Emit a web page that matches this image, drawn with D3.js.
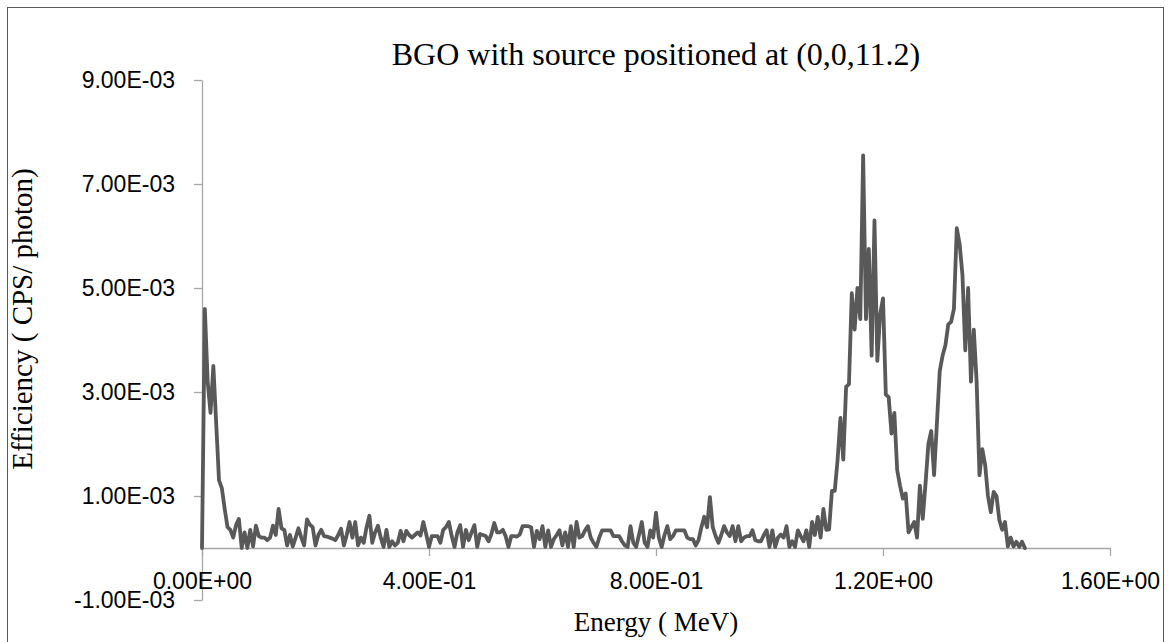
<!DOCTYPE html>
<html>
<head>
<meta charset="utf-8">
<script src="https://cdn.jsdelivr.net/npm/d3@7"></script>
<style>
  body { margin: 0; background: #fff; }
  .tick text { font-family: 'Liberation Sans', Arial, sans-serif; font-size: 23px; fill: #000; }
  .tick line, .domain { stroke: #a6a6a6; }
  .title { font-family: 'Liberation Serif', 'Times New Roman', serif; fill: #000; }
</style>
</head>
<body>
<div class="chart"></div>
<script>
// spectrum bins (MeV) and efficiency, in units of 1e-4 CPS/photon
const energyStart = 0
const energyStep = 0.005
const efficiency = [
  0, 46, 32, 26, 35, 24, 13, 11.5, 7.5, 4, 3.5, 2, 4.4, 5.6, 0, 3, 0, 3.5, 0.3, 4.3,
  2.3, 2, 2, 1.5, 2, 4.3, 2.5, 7.5, 3.8, 3.5, 0.5, 2.5, 0.3, 2, 3.8, 2, 0.5, 5.5,
  4.5, 4, 0.5, 2.5, 3.5, 2.3, 2.2, 2, 1.8, 1.5, 2.5, 3.7, 0.5, 2.5, 5, 2, 5, 0.5,
  2, 1, 4, 6.2, 1, 3, 4.3, 2, 0.2, 3.5, 0.2, 1.3, 0.5, 1, 3.3, 1.3, 3.3, 2.5, 2,
  2.5, 3, 2.4, 5, 2.7, 0.2, 2.3, 2.3, 2.3, 1, 3.5, 4, 5, 2.3, 0.2, 3, 4.4, 0.2,
  3.5, 1.5, 3, 4.4, 0.2, 2.7, 2.5, 2.3, 1.3, 2.7, 4.8, 3, 3,
  3.5, 2.3, 0.2, 2.3, 2.3, 2.2, 2.6, 4.2, 4.2, 4.2, 4, 0.2, 3.3, 1.7, 4.2, 0.2,
  3.4, 0.2, 1.7, 2.5, 3.4, 0.5, 3, 0.2, 4.2, 0.2, 5, 2, 2.3, 3.4, 4.2, 2, 1, 0.2,
  2, 3.4, 3.4, 3.4, 3.4, 2.3, 2.3, 2.3, 1.3, 0.5, 0.2, 4.2, 1, 0.2, 2.5, 5, 1, 0.2,
  3.4, 2, 6.8, 2, 0.2, 2.5, 4.2, 1.7, 2.3, 3.4, 3.4, 3.4, 3.4, 2, 1.7, 1.7, 0.5, 1.5,
  4, 6, 4, 9.8, 4, 2.3, 1, 2.5, 4.2, 3, 2.3, 4.2, 1.3, 4.2, 1.3, 2, 2.3, 2.3, 3.4,
  1.5, 1.3, 1.3, 2.5, 3.4, 0.2, 3.4, 0.2, 2, 2.6, 2, 4.2, 0.2, 1.3, 0.2, 3.4, 2.3,
  1.3, 3.4, 0.2, 5, 2.5, 6, 2, 7.5, 3.5, 3.6, 11, 11, 17, 25, 17, 31, 31.5, 49, 42,
  50, 44,
  75.5, 44, 57.5, 37, 63, 36, 45, 48, 29.5, 29, 22, 26, 15, 12, 9.5, 10.5, 3, 4, 5,
  2, 12, 5.6, 12.5, 20, 22.5, 14, 24, 34, 37, 39, 43, 43.5, 46, 61.5, 58.5, 52.5,
  38, 50, 32, 42, 32, 14, 19, 16, 10, 6.9, 10.8, 10, 5.4, 3.5, 5, 0.3, 2, 0.3, 1.2,
  0.2, 1.2, 0
]
const xTicks = [0, 0.4, 0.8, 1.2, 1.6]
const xTickLabels = ['0.00E+00', '4.00E-01', '8.00E-01', '1.20E+00', '1.60E+00']
const yTicks = [-0.001, 0.001, 0.003, 0.005, 0.007, 0.009]
const yTickLabels = ['-1.00E-03', '1.00E-03', '3.00E-03', '5.00E-03', '7.00E-03', '9.00E-03']

const width = 1170
const height = 642

const spectrum = efficiency.map((v, i) => ({
  energy: energyStart + i * energyStep,
  eff: v * 1e-4,
}))

const svg = d3
  .select('.chart')
  .append('svg')
  .attr('width', width)
  .attr('height', height)

// chart area border
svg
  .append('rect')
  .attr('x', 7.5)
  .attr('y', 7.5)
  .attr('width', 1156)
  .attr('height', 660)
  .style('fill', 'none')
  .style('stroke', '#595959')
  .style('stroke-width', 1)

let x = d3.scaleLinear().domain([0, 1.6]).range([202, 1110])
let y = d3.scaleLinear().domain([-0.001, 0.009]).range([600, 80])

svg
  .append('g')
  .attr('transform', `translate(202,0)`)
  .attr('class', 'y-axis')
  .call(
    d3
      .axisLeft(y)
      .tickValues(yTicks)
      .tickFormat((d, i) => yTickLabels[i])
      .tickSize(8)
      .tickSizeOuter(0)
      .tickPadding(19)
  )

svg
  .append('g')
  .attr('transform', `translate(0,${y(0)})`)
  .attr('class', 'x-axis')
  .call(
    d3
      .axisBottom(x)
      .tickValues(xTicks)
      .tickFormat((d, i) => xTickLabels[i])
      .tickSize(8)
      .tickSizeOuter(0)
      .tickPadding(17)
  )

svg.selectAll('.domain, .tick line').style('stroke', '#a6a6a6').style('stroke-width', 1.3)

let line = d3
  .line()
  .x((d) => x(d.energy))
  .y((d) => y(d.eff))

svg
  .append('path')
  .datum(spectrum)
  .attr('d', line)
  .style('fill', 'none')
  .style('stroke', '#595959')
  .style('stroke-width', 3.8)
  .style('stroke-linejoin', 'round')
  .style('stroke-linecap', 'round')

// titles
svg
  .append('text')
  .attr('class', 'title')
  .attr('x', 656)
  .attr('y', 65)
  .attr('text-anchor', 'middle')
  .style('font-size', '32px')
  .text('BGO with source positioned at (0,0,11.2)')

svg
  .append('text')
  .attr('class', 'title')
  .attr('x', 656)
  .attr('y', 631)
  .attr('text-anchor', 'middle')
  .style('font-size', '27px')
  .text('Energy ( MeV)')

svg
  .append('text')
  .attr('class', 'title')
  .attr('transform', 'translate(32,319) rotate(-90)')
  .attr('text-anchor', 'middle')
  .style('font-size', '29px')
  .text('Efficiency ( CPS/ photon)')
</script>
</body>
</html>
